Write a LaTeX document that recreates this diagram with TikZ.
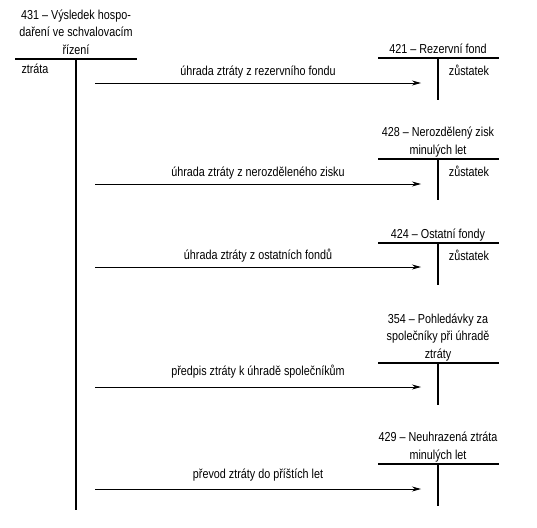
\documentclass[tikz,border=0pt]{standalone}
\usepackage{fontspec}
\setmainfont{Liberation Sans}[FakeStretch=0.83]
\usetikzlibrary{arrows.meta, positioning}

\begin{document}
\begin{tikzpicture}[x=1pt, y=-1pt, font=\fontsize{13}{17.5}\selectfont,
    >={Stealth[length=9pt, width=5pt]}, node distance=4.5pt,
    acct/.style={line width=2pt},
    flow/.style={->, line width=0.8pt},
    title/.style={align=center, inner sep=0pt, text depth=0pt},
    side/.style={anchor=base, inner sep=0pt},
    lbl/.style={anchor=base, inner sep=0pt, yshift=8pt}]
  \useasboundingbox (0,0) rectangle (537,527);

  % 431 -- result account (debit side)
  \coordinate (res) at (76,59);
  \node[title, above=of res] (res-t) {431 – Výsledek hospo-\\daření ve schvalovacím\\řízení};
  \draw[acct] (15,59) -- (137,59);
  \draw[acct] (res) -- (76,510);
  \node[side] (res-d) at (35,74) {ztráta};

  % 421 -- reserve fund
  \coordinate (rf) at (438,58);
  \node[title, above=of rf] (rf-t) {421 – Rezervní fond};
  \draw[acct] (378,58) -- (499,58);
  \draw[acct] (rf) -- (438,100);
  \node[side] (rf-c) at (469,75) {zůstatek};

  % 428 -- retained earnings
  \coordinate (nz) at (438,159);
  \node[title, above=of nz] (nz-t) {428 – Nerozdělený zisk\\minulých let};
  \draw[acct] (378,159) -- (499,159);
  \draw[acct] (nz) -- (438,200);
  \node[side] (nz-c) at (469,176) {zůstatek};

  % 424 -- other funds
  \coordinate (of) at (438,243);
  \node[title, above=of of] (of-t) {424 – Ostatní fondy};
  \draw[acct] (378,243) -- (499,243);
  \draw[acct] (of) -- (438,285);
  \node[side] (of-c) at (469,260) {zůstatek};

  % 354 -- receivables from partners
  \coordinate (po) at (438,363);
  \node[title, above=of po] (po-t) {354 – Pohledávky za\\společníky při úhradě\\ztráty};
  \draw[acct] (378,363) -- (499,363);
  \draw[acct] (po) -- (438,405);

  % 429 -- uncovered loss
  \coordinate (nu) at (438,464);
  \node[title, above=of nu] (nu-t) {429 – Neuhrazená ztráta\\minulých let};
  \draw[acct] (378,464) -- (499,464);
  \draw[acct] (nu) -- (438,506);

  % transfers
  \coordinate (s1) at (95,83);  \coordinate (e1) at (421,83);
  \coordinate (s2) at (95,184); \coordinate (e2) at (421,184);
  \coordinate (s3) at (95,267); \coordinate (e3) at (421,267);
  \coordinate (s4) at (95,387); \coordinate (e4) at (421,387);
  \coordinate (s5) at (95,489); \coordinate (e5) at (421,489);
  \draw[flow] (s1) -- node[lbl]{úhrada ztráty z rezervního fondu} (e1);
  \draw[flow] (s2) -- node[lbl]{úhrada ztráty z nerozděleného zisku} (e2);
  \draw[flow] (s3) -- node[lbl]{úhrada ztráty z ostatních fondů} (e3);
  \draw[flow] (s4) -- node[lbl, yshift=4pt]{předpis ztráty k úhradě společníkům} (e4);
  \draw[flow] (s5) -- node[lbl, yshift=3pt]{převod ztráty do příštích let} (e5);
\end{tikzpicture}
\end{document}
